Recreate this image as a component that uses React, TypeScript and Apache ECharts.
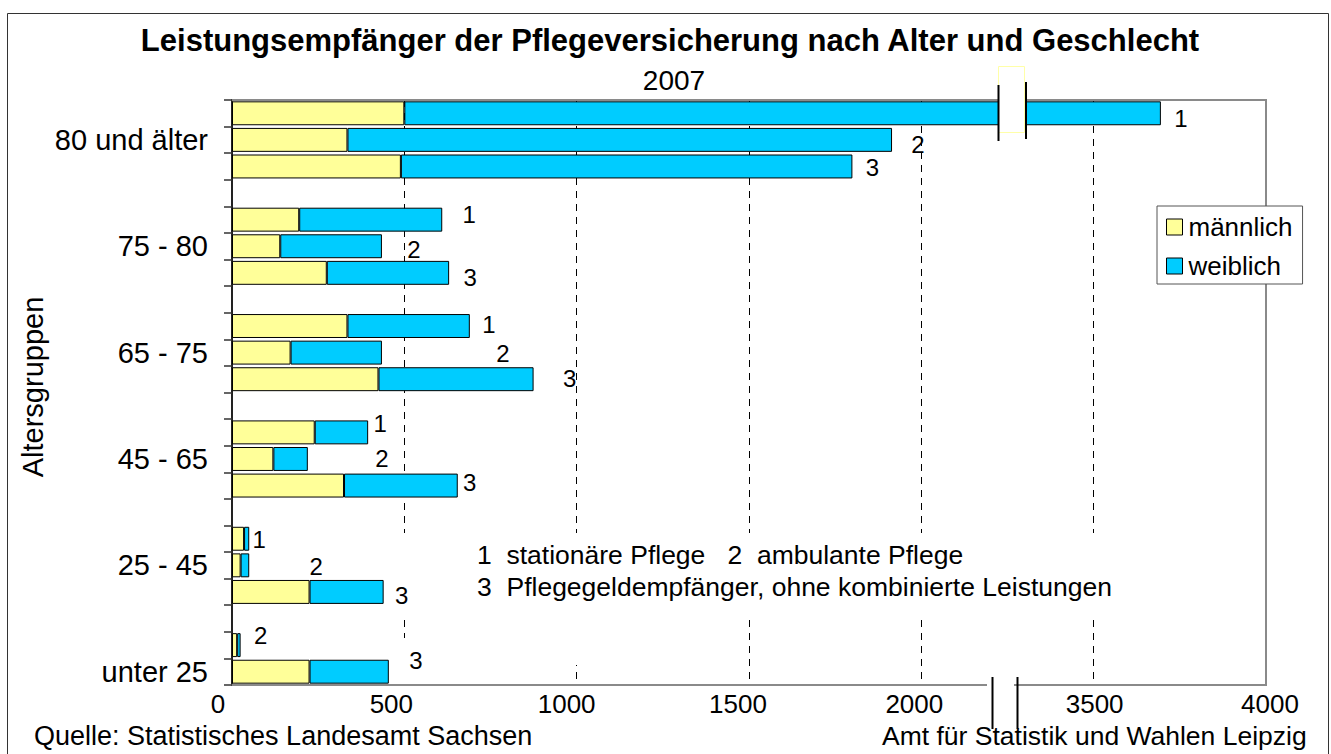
import { useEffect, useRef } from "react";
import * as echarts from "echarts";

// ---------- data ----------
const ageGroups = ["80 und älter", "75 - 80", "65 - 75", "45 - 65", "25 - 45", "unter 25"];
const benefitKinds = ["1", "2", "3"]; // 1 stationär, 2 ambulant, 3 Pflegegeld
const maleStationaer = [500, 195, 335, 240, 35, null];
const femaleStationaer = [3195, 415, 355, 155, 15, null];
const maleAmbulant = [335, 140, 170, 120, 25, 15];
const femaleAmbulant = [1580, 295, 265, 100, 25, 10];
const malePflegegeld = [490, 275, 425, 325, 225, 225];
const femalePflegegeld = [1310, 355, 450, 330, 215, 230];
const xTickLabels = ["0", "500", "1000", "1500", "2000", "3500", "4000"];
const seriesNames = ["männlich", "weiblich"];

// axis break: values above BREAK_FROM are drawn BREAK_GAP further left
const BREAK_FROM = 2250;
const BREAK_GAP = 1000;
const brk = (v: number) => (v > BREAK_FROM ? v - BREAK_GAP : v);

// ---------- layout ----------
const FONT = "Liberation Sans, Arial, sans-serif";
const xLabelShift = [-14, -13, -10, -11, -7, 1, 4];
const labelOffsets: (number[] | null)[][] = [
  [[20, 5], [26, 5], [20, 1]],
  [[27, -5], [32, 3], [21, 5]],
  [[19, -2], [121, 1], [36, -1]],
  [[12, -9], [74, 0], [12, -3]],
  [[10, 1], [67, 1], [18, 4]],
  [null, [20, -10], [27, -11]],
];

const maleByKind = [maleStationaer, maleAmbulant, malePflegegeld];
const femaleByKind = [femaleStationaer, femaleAmbulant, femalePflegegeld];

function buildRows() {
  const ids: string[] = [];
  const labels: string[] = [];
  const male: any[] = [];
  const female: any[] = [];
  ageGroups.forEach((g, gi) => {
    if (gi > 0) {
      ids.push("gap" + gi);
      labels.push("");
      male.push("-");
      female.push("-");
    }
    let n = 0;
    benefitKinds.forEach((k, ki) => {
      const m = maleByKind[ki][gi];
      const f = femaleByKind[ki][gi];
      if (m == null || f == null) return;
      n++;
      ids.push(gi + "-" + ki);
      labels.push(n === 2 ? g : "");
      const mD = brk(m);
      const tD = brk(m + f);
      male.push(mD);
      female.push({
        value: tD - mD,
        label: {
          show: true,
          formatter: k,
          position: "right",
          distance: 0,
          align: "center",
          verticalAlign: "middle",
          offset: labelOffsets[gi][ki] || [0, 0],
          fontSize: 24,
          fontFamily: FONT,
          color: "#000",
        },
      });
    });
  });
  return { ids, labels, male, female };
}

export default function App() {
  const ref = useRef<HTMLDivElement>(null);
  useEffect(() => {
    if (!ref.current) return;
    const chart = echarts.init(ref.current, undefined, { renderer: "svg" });
    const rows = buildRows();
    const rich: any = {};
    xLabelShift.forEach((s, i) => {
      rich["s" + i] = {
        fontSize: 26,
        fontFamily: FONT,
        color: "#000",
        padding: s < 0 ? [0, -2 * s, 0, 0] : [0, 0, 0, 2 * s],
      };
    });
    const txt = (text: string, x: number, y: number, size: number, extra: any = {}) => ({
      type: "text",
      x,
      y,
      z: 5,
      silent: true,
      style: {
        text,
        fontSize: size,
        fontFamily: FONT,
        fill: "#000",
        align: "left",
        verticalAlign: "middle",
        ...extra,
      },
    });
    const line = (x1: number, y1: number, x2: number, y2: number, stroke: string, lw: number, z: number) => ({
      type: "line",
      z,
      silent: true,
      shape: { x1, y1, x2, y2 },
      style: { stroke, lineWidth: lw },
    });
    const rect = (x: number, y: number, w: number, h: number, style: any, z: number) => ({
      type: "rect",
      z,
      silent: true,
      shape: { x, y, width: w, height: h },
      style,
    });

    chart.setOption({
      animation: false,
      backgroundColor: "#fff",
      textStyle: { fontFamily: FONT },
      grid: { left: 232, top: 100, width: 1034, height: 585, containLabel: false },
      legend: {
        data: seriesNames,
        orient: "vertical",
        left: 1157,
        top: 206,
        padding: [8, 10, 5, 9],
        itemGap: 13,
        itemWidth: 16,
        itemHeight: 16,
        icon: "rect",
        backgroundColor: "#fff",
        borderColor: "#555",
        borderWidth: 1,
        borderRadius: 0,
        itemStyle: { borderColor: "#000", borderWidth: 1 },
        textStyle: { fontSize: 26, lineHeight: 26, color: "#000", fontFamily: FONT, padding: [0, 0, 0, 1] },
        z: 10,
      },
      xAxis: {
        type: "value",
        min: 0,
        max: 3000,
        interval: 500,
        axisLine: { show: true, lineStyle: { color: "#8a8a8a", width: 2 } },
        axisTick: { show: false },
        axisLabel: {
          margin: 6,
          showMinLabel: true,
          showMaxLabel: true,
          hideOverlap: false,
          formatter: (v: number) => {
            const i = Math.round(v / 500);
            return "{s" + i + "|" + (xTickLabels[i] ?? "") + "}";
          },
          rich,
        },
        splitLine: { show: true, lineStyle: { color: "#000", width: 1, type: [7, 6] } },
      },
      yAxis: {
        type: "category",
        data: rows.ids,
        inverse: true,
        axisLine: { show: true, lineStyle: { color: "#222", width: 2 } },
        axisTick: { show: true, interval: 0, length: 8, lineStyle: { color: "#333", width: 1.5 } },
        axisLabel: {
          interval: 0,
          margin: 24,
          fontSize: 29,
          color: "#000",
          fontFamily: FONT,
          formatter: (_v: string, idx: number) => rows.labels[idx],
        },
        splitLine: { show: false },
      },
      series: [
        {
          name: seriesNames[0],
          type: "bar",
          stack: "total",
          barCategoryGap: "10%",
          data: rows.male,
          itemStyle: { color: "#FFFF99", borderColor: "#000", borderWidth: 1 },
          z: 2,
        },
        {
          name: seriesNames[1],
          type: "bar",
          stack: "total",
          barCategoryGap: "10%",
          data: rows.female,
          itemStyle: { color: "#00CCFF", borderColor: "#000", borderWidth: 1 },
          z: 2,
        },
      ],
      graphic: {
        elements: [
          // outer frame
          rect(7.5, 13.5, 1321, 800, { fill: "none", stroke: "#333", lineWidth: 1 }, 0),
          // plot border top / right
          line(232, 100, 1267, 100, "#8a8a8a", 2, 1),
          line(1266, 100, 1266, 686, "#8a8a8a", 2, 1),
          // white boxes behind text boxes (hide gridlines)
          rect(400, 533, 725, 82, { fill: "#fff" }, 1),
          rect(400, 638, 32, 46, { fill: "#fff" }, 1),
          rect(560, 615, 30, 50, { fill: "#fff" }, 1),
          // titles
          txt("Leistungsempfänger der Pflegeversicherung nach Alter und Geschlecht", 670, 40, 31, {
            align: "center",
            fontWeight: "bold",
          }),
          txt("2007", 674, 80, 28, { align: "center" }),
          {
            type: "text",
            x: 33,
            y: 387,
            rotation: Math.PI / 2,
            z: 5,
            silent: true,
            style: {
              text: "Altersgruppen",
              fontSize: 29,
              fontFamily: FONT,
              fill: "#000",
              align: "center",
              verticalAlign: "middle",
            },
          },
          // annotation
          txt("1\u00a0\u00a0stationäre Pflege\u00a0\u00a0\u00a02\u00a0\u00a0ambulante Pflege", 477, 555, 26.5),
          txt("3\u00a0\u00a0Pflegegeldempfänger, ohne kombinierte Leistungen", 477, 587, 26.5),
          // footer
          txt("Quelle: Statistisches Landesamt Sachsen", 34, 736, 27),
          txt("Amt für Statistik und Wahlen Leipzig", 882, 736, 26.5),
          // axis break on x axis
          rect(987, 682, 27, 6, { fill: "#fff" }, 6),
          line(992.5, 677, 992.5, 729, "#000", 2, 7),
          line(1017.5, 677, 1017.5, 729, "#000", 2, 7),
          // break mark on the long bar
          rect(998.5, 66.5, 26, 66, { fill: "#fff", stroke: "#ffffa8", lineWidth: 1 }, 6),
          line(998.5, 85, 998.5, 141, "#000", 2, 7),
          line(1026, 82, 1026, 139, "#000", 2, 7),
        ],
      },
    });
    return () => chart.dispose();
  }, []);
  return (
    <div
      ref={ref}
      style={{ position: "fixed", left: 0, top: 0, width: 1331, height: 754, background: "#fff" }}
    />
  );
}
